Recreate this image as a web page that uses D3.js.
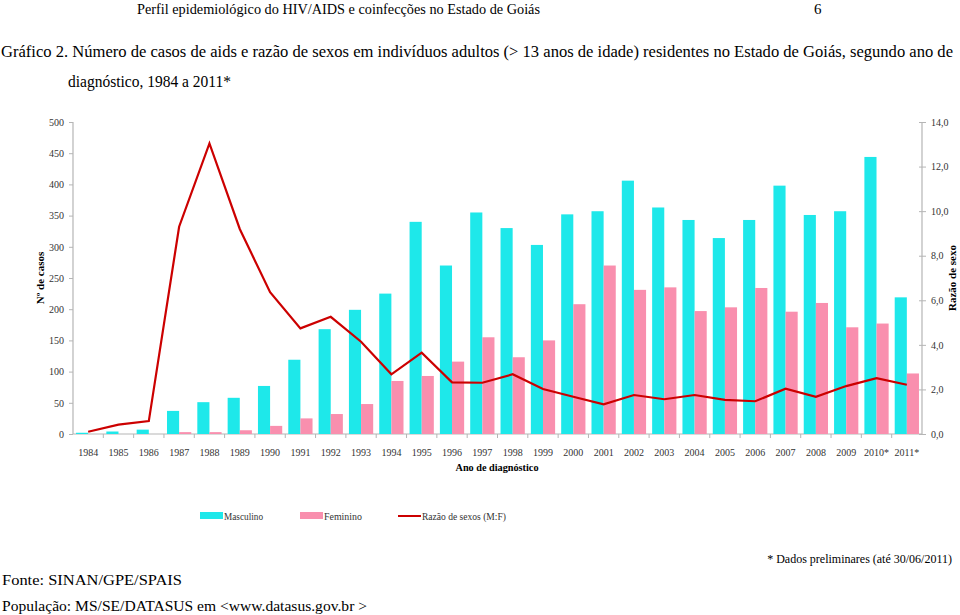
<!DOCTYPE html>
<html><head><meta charset="utf-8">
<script src="https://cdn.jsdelivr.net/npm/d3@7"></script>
<style>
body{margin:0;background:#fff;}
svg{display:block;}
svg text{font-family:"Liberation Serif","DejaVu Serif",serif;}
</style></head>
<body><svg id="c" width="960" height="615"></svg>
<script>
const years = ["1984","1985","1986","1987","1988","1989","1990","1991","1992","1993","1994","1995","1996","1997","1998","1999","2000","2001","2002","2003","2004","2005","2006","2007","2008","2009","2010*","2011*"];
const masculino = [2,4,7,37,51,58,77,119,168,199,225,340,270,355,330,303,352,357,406,363,343,314,343,398,351,357,444,219];
const feminino  = [0,0,0,3,3,6,13,25,32,48,85,93,116,155,123,150,208,270,231,235,197,203,234,196,210,171,177,97];
const razao     = [0.1,0.42,0.58,9.3,13.04,9.2,6.36,4.74,5.26,4.14,2.68,3.65,2.32,2.30,2.68,2.02,1.67,1.33,1.75,1.56,1.75,1.53,1.47,2.03,1.67,2.15,2.51,2.21];
const leftTicks = [0,50,100,150,200,250,300,350,400,450,500];
const rightTicks = [0,2,4,6,8,10,12,14];
const seriesNames = ["Masculino","Feminino"];
const colors = {Masculino:"#1ee8ea", Feminino:"#f98fae", line:"#cc0000"};

const FONT = "Liberation Serif, DejaVu Serif, serif";
const svg = d3.select("#c");
const L = 73, R = 922, T = 122, B = 434;

function txt(x, y, size, s, opts={}){
  const t = svg.append("text").attr("x",x).attr("y",y).attr("font-size",size)
    .attr("font-family",FONT).attr("fill",opts.fill||"#000").text(s);
  if(opts.len) t.attr("textLength",opts.len).attr("lengthAdjust","spacingAndGlyphs");
  if(opts.anchor) t.attr("text-anchor",opts.anchor);
  if(opts.bold) t.attr("font-weight","bold");
  return t;
}

// header texts
txt(137,14,14.5,"Perfil epidemiológico do HIV/AIDS e coinfecções no Estado de Goiás",{len:403});
txt(814,14,15,"6");
txt(1,57,16.5,"Gráfico 2. Número de casos de aids e razão de sexos em indivíduos adultos (> 13 anos de idade) residentes no Estado de Goiás, segundo ano de",{len:952});
txt(68,87,16.5,"diagnóstico, 1984 a 2011*",{len:163});

const x = d3.scaleBand().domain(years).range([L,R]).padding(0);
const xs = d3.scaleBand().domain(seriesNames).range([x.bandwidth()*0.1, x.bandwidth()*0.9]);
const yL = d3.scaleLinear().domain([0,500]).range([B,T]);
const yR = d3.scaleLinear().domain([0,14]).range([B,T]);

const axisColor = "#b5b5b5", labelColor = "#333";

const gl = svg.append("g").attr("transform",`translate(${L},0)`)
  .call(d3.axisLeft(yL).tickValues(leftTicks).tickSize(4).tickPadding(5).tickFormat(d3.format("d")));
const gr = svg.append("g").attr("transform",`translate(${R},0)`)
  .call(d3.axisRight(yR).tickValues(rightTicks).tickSize(4).tickPadding(5).tickFormat(d=>d3.format(".1f")(d).replace(".",",")));
gr.selectAll(".tick line").attr("x1",-3);
const gx = svg.append("g").attr("transform",`translate(0,${B})`)
  .call(d3.axisBottom(x).tickSize(0).tickPadding(15));
gx.selectAll(".bound").data(years.slice(1)).enter().append("line")
  .attr("x1",d=>x(d)).attr("x2",d=>x(d)).attr("y1",0).attr("y2",4)
  .attr("stroke",axisColor);

[gl,gr,gx].forEach(g=>{
  g.attr("font-family",FONT);
  g.select(".domain").attr("stroke",axisColor).attr("stroke-width",1.2);
  g.selectAll(".tick line").attr("stroke",axisColor);
  g.selectAll("text").attr("font-size",10).attr("fill",labelColor).attr("font-family",FONT);
});
gl.select(".domain").attr("d",`M0,${B}V${T}`);
gr.select(".domain").attr("d",`M0,${B}V${T}`);
gx.select(".domain").attr("d",`M${L},0H${R}`);

// bars
const data = years.map((y,i)=>({year:y, Masculino:masculino[i], Feminino:feminino[i]}));
const gb = svg.append("g");
seriesNames.forEach(s=>{
  gb.selectAll(".b"+s).data(data).enter().append("rect")
    .attr("x",d=>x(d.year)+xs(s)).attr("width",xs.bandwidth())
    .attr("y",d=>yL(d[s])).attr("height",d=>B-yL(d[s]))
    .attr("fill",colors[s]);
});

// line
const line = d3.line().x((d,i)=>x(years[i])+x.bandwidth()/2).y(d=>yR(d));
svg.append("path").datum(razao).attr("d",line).attr("fill","none")
  .attr("stroke",colors.line).attr("stroke-width",2.2).attr("stroke-linejoin","miter");

// axis titles
svg.append("text").attr("transform","translate(44,278) rotate(-90)").attr("text-anchor","middle")
  .attr("font-family",FONT).attr("font-size",11).attr("font-weight","bold").text("Nº de casos");
svg.append("text").attr("transform","translate(956,278) rotate(-90)").attr("text-anchor","middle")
  .attr("font-family",FONT).attr("font-size",11).attr("font-weight","bold").text("Razão de sexo");
txt(497,471,10.5,"Ano de diagnóstico",{anchor:"middle",bold:true,len:83});

// legend
const leg = [
  {name:"Masculino", type:"rect", color:colors.Masculino, x:200, len:39},
  {name:"Feminino", type:"rect", color:colors.Feminino, x:300, len:38},
  {name:"Razão de sexos (M:F)", type:"line", color:colors.line, x:398, len:84}
];
leg.forEach(l=>{
  if(l.type==="rect") svg.append("rect").attr("x",l.x).attr("y",512).attr("width",23).attr("height",7).attr("fill",l.color);
  else svg.append("line").attr("x1",l.x).attr("x2",l.x+23).attr("y1",516).attr("y2",516).attr("stroke",l.color).attr("stroke-width",2);
  txt(l.x+24,520,10.5,l.name,{fill:"#333",len:l.len});
});

// footer
txt(952,563,12,"* Dados preliminares (até 30/06/2011)",{anchor:"end"});
txt(2,585,15.5,"Fonte: SINAN/GPE/SPAIS",{len:180});
txt(2,611,15.5,"População: MS/SE/DATASUS em <www.datasus.gov.br >",{len:365});
</script></body></html>
